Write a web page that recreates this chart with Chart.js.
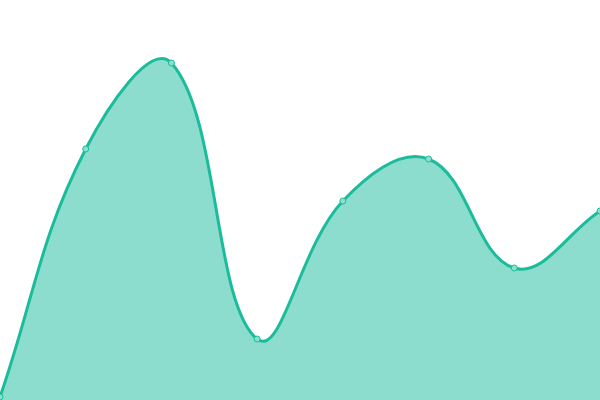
<!DOCTYPE html>
<html><head><meta charset="utf-8">
<script src="https://cdn.jsdelivr.net/npm/chart.js@4"></script>
<style>html,body{margin:0;padding:0;background:#fff}#wrap{width:600px;height:400px}</style>
</head><body><div id="wrap"><canvas id="c"></canvas></div>
<script>
const labels = ["1","2","3","4","5","6","7","8"];
const values = [3, 251, 337, 61, 199, 241, 132, 189];
new Chart(document.getElementById('c'), {
  type: 'line',
  data: { labels: labels, datasets: [{
    data: values,
    borderColor: '#1abc9c',
    backgroundColor: 'rgba(26,188,156,0.5)',
    pointBackgroundColor: '#8ce0cf',
    pointBorderColor: '#1abc9c',
    pointRadius: 3,
    pointBorderWidth: 1,
    borderWidth: 3,
    tension: 0.4,
    fill: 'origin'
  }]},
  options: {
    responsive: true, maintainAspectRatio: false, animation: false,
    layout: { padding: 0, autoPadding: false },
    plugins: { legend: { display: false }, tooltip: { enabled: false } },
    scales: {
      x: { display: false, offset: false },
      y: { display: false, min: 0, max: 400 }
    }
  }
});
</script></body></html>
